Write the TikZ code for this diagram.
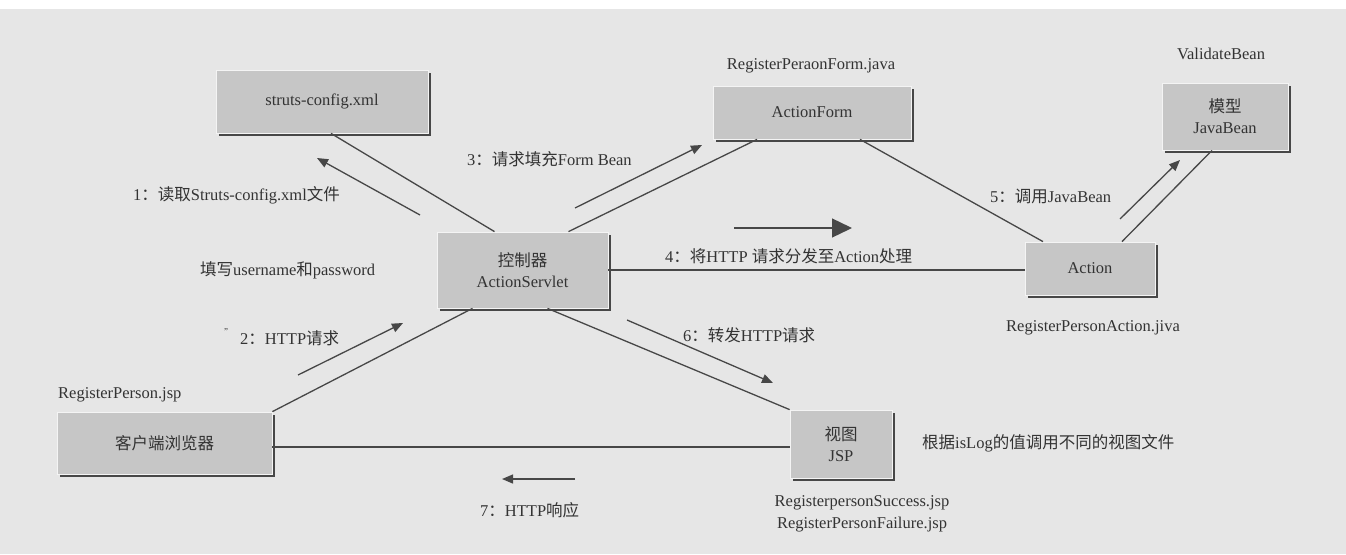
\documentclass[tikz,border=0pt]{standalone}
\usepackage{fontspec}
\setmainfont{Liberation Serif}
\newfontfamily\cjk{Noto Sans CJK SC}
\usetikzlibrary{arrows.meta,shadows,calc}
\definecolor{bg}{HTML}{E6E6E6}
\definecolor{boxfill}{HTML}{C6C6C6}
\definecolor{txt}{HTML}{333333}
\definecolor{ln}{HTML}{474747}
\newcommand{\zh}[1]{{\cjk #1}}
\begin{document}
\begin{tikzpicture}[x=1pt,y=-1pt,
  every node/.style={font=\fontsize{16.5}{21}\selectfont, text=txt},
  box/.style={rectangle, fill=boxfill, draw=white!80!boxfill, line width=0.8pt,
    inner sep=0pt, align=center,
    drop shadow={shadow xshift=3pt, shadow yshift=-3pt, fill=black!72, opacity=1}},
  lbl/.style={inner sep=0pt},
  conn/.style={draw=ln, line width=1.3pt},
  arr/.style={conn, -{Triangle[length=11pt,width=9pt]}},
  bigarr/.style={conn, -{Triangle[length=20pt,width=19pt]}}]
\useasboundingbox (0,0) rectangle (1346,554);
\fill[bg] (0,0) rectangle (1346,554);
\fill[white] (0,0) rectangle (1346,9);

% boxes
\node[box, minimum width=212pt, minimum height=63pt] (sc) at (322,101.5) {struts-config.xml};
\node[box, minimum width=198pt, minimum height=53pt] (af) at (812,112.5) {ActionForm};
\node[box, minimum width=126pt, minimum height=67pt] (jb) at (1225,116.5) {\zh{模型}\\JavaBean};
\node[box, minimum width=171pt, minimum height=76pt] (as) at (522.5,270) {\zh{控制器}\\ActionServlet};
\node[box, minimum width=130pt, minimum height=53pt] (ac) at (1090,268.5) {Action};
\node[box, minimum width=215pt, minimum height=62pt] (br) at (164.5,443) {\zh{客户端浏览器}};
\node[box, minimum width=102pt, minimum height=68pt] (vw) at (841,444) {\zh{视图}\\JSP};

% connectors
\draw[conn] ([xshift=9pt]sc.south) -- ([xshift=-28pt]as.north);
\draw[conn] ([xshift=46pt]as.north) -- ([xshift=-55pt]af.south);
\draw[conn] ([xshift=48pt]af.south) -- ([xshift=-47pt]ac.north);
\draw[conn] (as.east) -- (as.east -| ac.west);
\draw[conn] ([xshift=32pt]ac.north) -- ([xshift=-13pt]jb.south);
\draw[conn] ([xshift=25pt]as.south) -- (vw.north west);
\draw[conn] ([xshift=-50pt]as.south) -- (br.north east);
\draw[conn] ([yshift=-4pt]br.east) -- ([yshift=-4pt]br.east -| vw.west);

% message arrows
\coordinate (a1s) at (420,215); \coordinate (a1e) at (317,158);
\coordinate (a2s) at (298,375); \coordinate (a2e) at (403,323);
\coordinate (a3s) at (575,208); \coordinate (a3e) at (702,145);
\coordinate (a4s) at (734,228); \coordinate (a4e) at (852,228);
\coordinate (a5s) at (1120,219); \coordinate (a5e) at (1180,160);
\coordinate (a6s) at (627,320); \coordinate (a6e) at (773,383);
\coordinate (a7s) at (575,479); \coordinate (a7e) at (502,479);
\draw[arr] (a1s) -- (a1e);
\draw[arr] (a2s) -- (a2e);
\draw[arr] (a3s) -- (a3e);
\draw[bigarr] (a4s) -- (a4e);
\draw[arr] (a5s) -- (a5e);
\draw[arr] (a6s) -- (a6e);
\draw[arr] (a7s) -- (a7e);

% labels
\node[lbl] (nsf) at (811,66) {RegisterPeraonForm.java};
\node[lbl] (nvb) at (1221,54) {ValidateBean};
\node[lbl] (nra) at (1093,328) {RegisterPersonAction.jiva};
\node[lbl, anchor=west] (nrp) at (58,395) {RegisterPerson.jsp};
\node[lbl] (nv1) at (862,503) {RegisterpersonSuccess.jsp};
\node[lbl] (nv2) at (862,525) {RegisterPersonFailure.jsp};
\node[lbl, anchor=west] (nis) at (922,443) {\zh{根据}isLog\zh{的值调用不同的视图文件}};
\node[lbl, anchor=west] (l1) at (133,195) {1\zh{：读取}Struts-config.xml\zh{文件}};
\node[lbl, anchor=west] (lf) at (200,270) {\zh{填写}username\zh{和}password};
\node[lbl, font=\fontsize{9}{9}\selectfont] (mk) at (226,332) {"};
\node[lbl, anchor=west] (l2) at (240,338) {2\zh{：}HTTP\zh{请求}};
\node[lbl, anchor=west] (l3) at (467,159) {3\zh{：请求填充}Form Bean};
\node[lbl, anchor=west] (l4) at (665,256) {4\zh{：将}HTTP \zh{请求分发至}Action\zh{处理}};
\node[lbl, anchor=west] (l5) at (990,196) {5\zh{：调用}JavaBean};
\node[lbl, anchor=west] (l6) at (683,335) {6\zh{：转发}HTTP\zh{请求}};
\node[lbl, anchor=west] (l7) at (480,510) {7\zh{：}HTTP\zh{响应}};
\end{tikzpicture}
\end{document}
